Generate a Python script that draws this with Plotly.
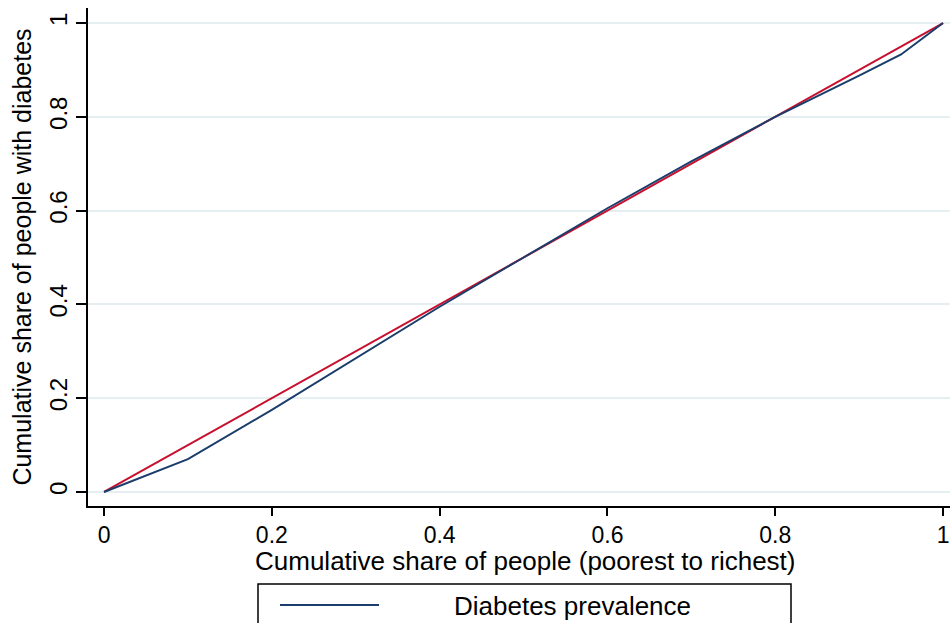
import plotly.graph_objects as go

# Concentration curve data (cumulative share of people vs cumulative share with diabetes)
cum_people = [0.0, 0.1, 0.2, 0.3, 0.4, 0.5, 0.6, 0.7, 0.8, 0.9, 0.95, 1.0]
cum_diabetes = [0.0, 0.07, 0.175, 0.285, 0.395, 0.5, 0.605, 0.705, 0.8, 0.888, 0.933, 1.0]
equality_x = [0.0, 1.0]
equality_y = [0.0, 1.0]
tick_vals = [0, 0.2, 0.4, 0.6, 0.8, 1]
tick_text = ["0", "0.2", "0.4", "0.6", "0.8", "1"]
legend_label = "Diabetes prevalence"
x_title = "Cumulative share of people (poorest to richest)"
y_title = "Cumulative share of people with diabetes"

BLUE = "#1b3d6b"
RED = "#c8102e"
FONT = "Liberation Sans, Arial, sans-serif"

fig = go.Figure()
fig.add_trace(go.Scatter(x=equality_x, y=equality_y, mode="lines",
                         line=dict(color=RED, width=2), showlegend=False,
                         name="Line of equality"))
fig.add_trace(go.Scatter(x=cum_people, y=cum_diabetes, mode="lines",
                         line=dict(color=BLUE, width=2), showlegend=False,
                         name=legend_label))

W, H = 950, 623
L, R, T, B = 88, 0, 8, 117
pw, ph = W - L - R, H - T - B

def px_x(p):
    return (p - L) / pw

def px_y(p):
    return (H - B - p) / ph

fig.update_layout(
    width=W, height=H,
    margin=dict(l=L, r=R, t=T, b=B, autoexpand=False),
    paper_bgcolor="white", plot_bgcolor="white",
    font=dict(family=FONT, size=25, color="black"),
    xaxis=dict(range=[-0.0191, 1.0083], tickvals=tick_vals, ticktext=tick_text,
               showgrid=False, zeroline=False, showline=True, linecolor="black",
               linewidth=1.5, ticks="outside", ticklen=8, tickwidth=1.5,
               tickcolor="black", tickfont=dict(size=23)),
    yaxis=dict(range=[-0.0299, 1.032], tickvals=tick_vals, ticktext=tick_text,
               showgrid=True, gridcolor="#e5eef1", gridwidth=1.5, zeroline=False,
               showline=True, linecolor="black", linewidth=1.5, ticks="outside",
               ticklen=10, tickwidth=1.5, tickcolor="black", tickangle=-90,
               tickfont=dict(size=24),
               title=dict(text=y_title, font=dict(size=25), standoff=6)),
    shapes=[
        dict(type="rect", xref="paper", yref="paper",
             x0=px_x(258), x1=px_x(791), y0=px_y(640), y1=px_y(584),
             line=dict(color="black", width=1.5), fillcolor="rgba(0,0,0,0)"),
        dict(type="line", xref="paper", yref="paper",
             x0=px_x(280), x1=px_x(379), y0=px_y(605), y1=px_y(605),
             line=dict(color=BLUE, width=2)),
    ],
    annotations=[
        dict(text=x_title, xref="paper", yref="paper",
             x=px_x(525), y=px_y(561), xanchor="center", yanchor="middle",
             showarrow=False, font=dict(size=26, color="black")),
        dict(text=legend_label, xref="paper", yref="paper",
             x=px_x(572), y=px_y(606), xanchor="center", yanchor="middle",
             showarrow=False, font=dict(size=26, color="black")),
    ],
)

fig.write_html("out.html", config={"displayModeBar": False},
               post_script="document.body.style.margin='0px';document.body.style.overflow='hidden';")
